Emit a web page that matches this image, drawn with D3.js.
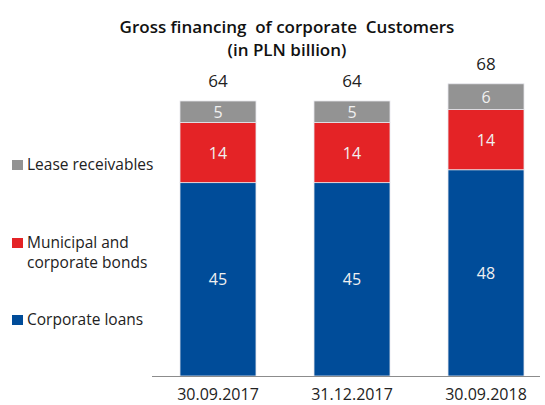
<!DOCTYPE html>
<html>
<head>
<meta charset="utf-8">
<script src="https://cdn.jsdelivr.net/npm/d3@7"></script>
<style>
  html, body { margin: 0; padding: 0; background: #fff; }
  svg { display: block; font-family: "Open Sans", "DejaVu Sans", sans-serif; }
</style>
</head>
<body>
<svg id="chart" width="545" height="405"></svg>
<script>
// Reporting dates on the x axis
const categories = ["30.09.2017", "31.12.2017", "30.09.2018"];
// Series values (PLN billion), stacked bottom to top
const corporateLoans = [45, 45, 48];
const municipalBonds = [14, 14, 14];
const leaseReceivables = [5, 5, 6];
const totals = [64, 64, 68];

const seriesNames = ["Corporate loans", "Municipal and corporate bonds", "Lease receivables"];
const seriesColors = ["#004c99", "#e42326", "#939393"];

const rows = categories.map((c, i) => ({
  cat: c,
  "Corporate loans": corporateLoans[i],
  "Municipal and corporate bonds": municipalBonds[i],
  "Lease receivables": leaseReceivables[i],
  total: totals[i]
}));

const svg = d3.select("#chart");
const baseY = 376;

// bars 76px wide on a 134px step
const x = d3.scaleBand().domain(categories).range([153.2, 550.8]).paddingInner(0.433).paddingOuter(0.2);
const y = d3.scaleLinear().domain([0, 64]).range([baseY, 101]);

const layers = d3.stack().keys(seriesNames)(rows);

// Title
const titleLines = ["Gross financing  of corporate  Customers", "(in PLN billion)"];
svg.selectAll(".title").data(titleLines).enter().append("text")
  .attr("class", "title")
  .attr("x", 287).attr("y", (d, i) => 33 + i * 23)
  .attr("text-anchor", "middle")
  .attr("font-size", 17).attr("font-weight", 600).attr("fill", "#111")
  .style("white-space", "pre")
  .text(d => d);

// Stacked bars
const g = svg.append("g");
layers.forEach((layer, li) => {
  g.selectAll(null).data(layer).enter().append("rect")
    .attr("x", d => x(d.data.cat))
    .attr("width", x.bandwidth())
    .attr("y", d => y(d[1]))
    .attr("height", d => y(d[0]) - y(d[1]))
    .attr("fill", seriesColors[li])
    .attr("stroke", "#e6e6ec").attr("stroke-width", 0.8);

  g.selectAll(null).data(layer).enter().append("text")
    .attr("x", d => x(d.data.cat) + x.bandwidth() / 2)
    .attr("y", d => (y(d[0]) + y(d[1])) / 2 + 6)
    .attr("text-anchor", "middle")
    .attr("font-size", 16)
    .attr("fill", "#f0f0f0")
    .text(d => d.data[layer.key]);
});

// Totals above bars
g.selectAll(null).data(rows).enter().append("text")
  .attr("x", d => x(d.cat) + x.bandwidth() / 2)
  .attr("y", d => y(d.total) - 14)
  .attr("text-anchor", "middle")
  .attr("font-size", 17)
  .attr("fill", "#222")
  .text(d => d.total);

// X axis
const xAxis = svg.append("g").attr("transform", `translate(0,${baseY})`)
  .call(d3.axisBottom(x).tickSize(0).tickPadding(12.5));
xAxis.select(".domain").attr("stroke", "#8c8c8c").attr("d", "M152,0.5H540");
xAxis.selectAll("text").attr("font-size", 16).attr("fill", "#222")
  .attr("font-family", "\"Open Sans\", \"DejaVu Sans\", sans-serif");

// Legend
const legend = [
  { lines: ["Lease receivables"], color: seriesColors[2], y: 165 },
  { lines: ["Municipal and", "corporate bonds"], color: seriesColors[1], y: 243 },
  { lines: ["Corporate loans"], color: seriesColors[0], y: 320 }
];
const lg = svg.append("g");
legend.forEach(item => {
  lg.append("rect").attr("x", 12).attr("y", item.y - 5).attr("width", 11).attr("height", 10).attr("fill", item.color);
  const t = lg.append("text").attr("font-size", 15.5).attr("fill", "#222");
  item.lines.forEach((l, i) => {
    t.append("tspan").attr("x", 27).attr("y", item.y + 5 + i * 20).text(l);
  });
});
</script>
</body>
</html>
